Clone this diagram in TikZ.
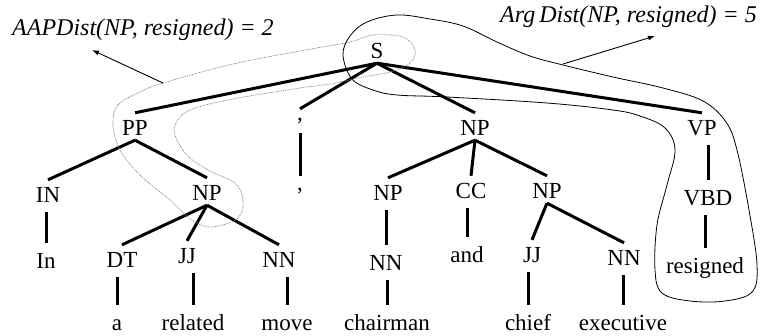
\documentclass[tikz,border=0pt]{standalone}
\usepackage{fontspec}
\setmainfont{Liberation Serif}
\usetikzlibrary{arrows.meta}

\begin{document}
\begin{tikzpicture}[x=1pt,y=-1pt,
    tag/.style={font=\fontsize{23}{26}\selectfont, text height=17pt, text depth=0pt,
      inner xsep=1pt, inner ysep=5pt, anchor=base},
    punct/.style={tag, text height=6pt, text depth=3pt},
    branch/.style={line width=3pt},
    stem/.style={branch, shorten <=5pt, shorten >=3pt},
    hull/.style={line width=0.8pt},
    hulldot/.style={gray, line width=0.7pt, dash pattern=on 0.9pt off 0.9pt},
    pointer/.style={line width=0.9pt, -{Latex[length=7pt,width=5pt]}},
    note/.style={font=\fontsize{24}{28}\selectfont\itshape, anchor=base west, inner sep=0pt}]
     \useasboundingbox (0,0) rectangle (761,335);
     \node[tag] (S)   at (377, 58) {S};
     \node[tag] (PP)  at (135,135) {PP};
     \node[punct] (cm1) at (300,120) {,};
     \node[tag] (NP1) at (475,135) {NP};
     \node[tag] (VP)  at (702,135) {VP};
     \node[tag] (IN)  at ( 48,202) {IN};
     \node[tag] (NP2) at (207,200) {NP};
     \node[punct] (cm2) at (300,190) {,};
     \node[tag] (NP3) at (388,200) {NP};
     \node[tag] (CC)  at (471,198) {CC};
     \node[tag] (NP4) at (547,198) {NP};
     \node[tag] (VBD) at (708,205) {VBD};
     \node[tag] (wIn) at ( 46,268) {In};
     \node[tag] (DT)  at (122,267) {DT};
     \node[tag] (JJ1) at (187,263) {JJ};
     \node[tag] (NN1) at (279,267) {NN};
     \node[tag] (NN2) at (386,270) {NN};
     \node[tag] (wand) at (467,262) {and};
     \node[tag] (JJ2) at (532,262) {JJ};
     \node[tag] (NN3) at (624,265) {NN};
     \node[tag] (wresigned) at (705,273) {resigned};
     \node[tag] (wa)  at (117,330) {a};
     \node[tag] (wrelated) at (193,330) {related};
     \node[tag] (wmove) at (287,330) {move};
     \node[tag] (wchairman) at (387,330) {chairman};
     \node[tag] (wchief) at (528,330) {chief};
     \node[tag] (wexecutive) at (623,330) {executive};
     \draw[branch] (S.south) -- (PP.north);
     \draw[branch] (S.south) -- (cm1.north);
     \draw[branch] (S.south) -- (NP1.north);
     \draw[branch] (S.south) -- (VP.north);
     \draw[branch] (PP.south) -- (IN.north);
     \draw[branch] (PP.south) -- (NP2.north);
     \draw[branch] (NP1.south) -- (NP3.north);
     \draw[branch] (NP1.south) -- (CC.north);
     \draw[branch] (NP1.south) -- (NP4.north);
     \draw[branch] (NP2.south) -- (DT.north);
     \draw[branch] (NP2.south) -- (JJ1.north);
     \draw[branch] (NP2.south) -- (NN1.north);
     \draw[branch] (NP4.south) -- (JJ2.north);
     \draw[branch] (NP4.south) -- (NN3.north);
     \draw[stem] (cm1.south) -- (cm2.north);
     \draw[stem] (VP.south -| VBD.north) -- (VBD.north);
     \draw[stem] (IN.south -| wIn.north) -- (wIn.north);
     \draw[stem] (NP3.south -| NN2.north) -- (NN2.north);
     \draw[stem] (CC.south -| wand.north) -- (wand.north);
     \draw[stem] (VBD.south -| wresigned.north) -- (wresigned.north);
     \draw[stem] (DT.south -| wa.north) -- (wa.north);
     \draw[stem] (JJ1.south -| wrelated.north) -- (wrelated.north);
     \draw[stem] (NN1.south -| wmove.north) -- (wmove.north);
     \draw[stem] (NN2.south -| wchairman.north) -- (wchairman.north);
     \draw[stem] (JJ2.south -| wchief.north) -- (wchief.north);
     \draw[stem] (NN3.south -| wexecutive.north) -- (wexecutive.north);
     \draw[hull] plot[smooth cycle, tension=0.6] coordinates {
       (343,55) (350,36) (367,22) (397,15) (430,19) (463,26) (497,42) (530,56)
       (563,65) (613,77) (663,88) (703,101) (726,122) (737,150) (749,210)
       (757,265) (752,292) (725,301) (690,301) (662,293) (655,270) (657,225)
       (667,185) (675,150) (665,128) (640,116) (613,110) (547,103) (447,97)
       (397,95) (373,90) (352,79)};
     \draw[hulldot] plot[smooth cycle, tension=0.6] coordinates {
       (113,125) (118,105) (140,92) (163,83) (233,64) (300,51) (350,42)
       (373,35) (403,37) (415,50) (410,63) (390,72) (363,77) (330,84)
       (300,88) (233,99) (190,110) (175,125) (177,140) (190,158) (212,172)
       (235,183) (243,200) (238,218) (212,227) (192,220) (170,200) (140,175)
       (120,150)};
     \coordinate (aapend) at (92,50);
     \coordinate (argend) at (655,36);
     \draw[pointer] (163,83) -- (aapend);
     \draw[pointer] (563,64) -- (argend);
     \node[note] (aap) at (12,35) {AAPDist(NP, resigned) = 2};
     \node[note] (arg) at (500,22) {Arg\,Dist(NP, resigned) = 5};
\end{tikzpicture}
\end{document}
